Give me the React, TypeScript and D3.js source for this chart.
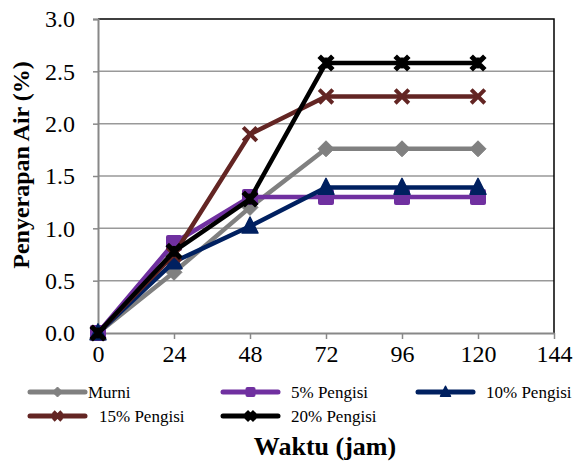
import { useEffect, useRef } from 'react';
import * as d3 from 'd3';

const hours = [0, 24, 48, 72, 96, 120];
const xTicks = [0, 24, 48, 72, 96, 120, 144];
const yTicks = [0, 0.5, 1.0, 1.5, 2.0, 2.5, 3.0];

const murni = [0, 0.58, 1.2, 1.76, 1.76, 1.76];
const pengisi5 = [0, 0.86, 1.3, 1.3, 1.3, 1.3];
const pengisi10 = [0, 0.68, 1.02, 1.39, 1.39, 1.39];
const pengisi15 = [0, 0.75, 1.9, 2.26, 2.26, 2.26];
const pengisi20 = [0, 0.78, 1.28, 2.58, 2.58, 2.58];

const seriesNames = ['Murni', '5% Pengisi', '10% Pengisi', '15% Pengisi', '20% Pengisi'];

type Marker = 'diamond' | 'square' | 'triangle' | 'x' | 'star';
type Series = { name: string; values: number[]; color: string; marker: Marker };

const series: Series[] = [
  { name: seriesNames[0], values: murni, color: '#808080', marker: 'diamond' },
  { name: seriesNames[1], values: pengisi5, color: '#7030a0', marker: 'square' },
  { name: seriesNames[2], values: pengisi10, color: '#002060', marker: 'triangle' },
  { name: seriesNames[3], values: pengisi15, color: '#632523', marker: 'x' },
  { name: seriesNames[4], values: pengisi20, color: '#000000', marker: 'star' },
];

const FONT = "'Liberation Serif', 'Times New Roman', serif";

// draws a marker centred at (cx, cy), s = half size
function drawMarker(g: d3.Selection<SVGGElement, unknown, null, undefined>, type: Marker, cx: number, cy: number, s: number, color: string) {
  if (type === 'diamond') {
    g.append('path')
      .attr('d', `M${cx},${cy - s}L${cx + s},${cy}L${cx},${cy + s}L${cx - s},${cy}Z`)
      .attr('fill', color)
      .attr('stroke', color)
      .attr('stroke-linejoin', 'round')
      .attr('stroke-width', 1);
  } else if (type === 'square') {
    g.append('rect')
      .attr('x', cx - s).attr('y', cy - s)
      .attr('width', 2 * s).attr('height', 2 * s)
      .attr('rx', 2)
      .attr('fill', color);
  } else if (type === 'triangle') {
    g.append('path')
      .attr('d', `M${cx},${cy - s * 1.15}L${cx + s},${cy + s * 0.85}L${cx - s},${cy + s * 0.85}Z`)
      .attr('fill', color)
      .attr('stroke', color)
      .attr('stroke-linejoin', 'round')
      .attr('stroke-width', 1.5);
  } else {
    const k = s * 0.85;
    g.append('path')
      .attr('d', `M${cx - k},${cy - k}L${cx + k},${cy + k}M${cx + k},${cy - k}L${cx - k},${cy + k}`)
      .attr('stroke', color)
      .attr('stroke-width', type === 'star' ? 5 : 4);
    if (type === 'star') {
      g.append('path')
        .attr('d', `M${cx},${cy - k * 0.8}L${cx},${cy + k * 0.8}`)
        .attr('stroke', color)
        .attr('stroke-width', 3.5);
    }
  }
}

export default function App() {
  const svgRef = useRef<SVGSVGElement>(null);

  useEffect(() => {
    if (!svgRef.current) return;
    const svg = d3.select(svgRef.current);
    svg.selectAll('*').remove();

    const x = d3.scaleLinear().domain([0, 144]).range([98, 554]);
    const y = d3.scaleLinear().domain([0, 3]).range([333, 19]);

    const root = svg.append('g').style('font-family', FONT);

    // gridlines
    root.selectAll('.grid')
      .data(yTicks.filter(t => t > 0 && t < 3))
      .enter().append('line')
      .attr('x1', x(0)).attr('x2', x(144))
      .attr('y1', d => y(d)).attr('y2', d => y(d))
      .attr('stroke', '#999999')
      .attr('stroke-width', 1.5);

    // top and right border
    root.append('path')
      .attr('d', `M${x(0)},${y(3)}H${x(144)}V${y(0)}`)
      .attr('fill', 'none')
      .attr('stroke', '#000')
      .attr('stroke-width', 1.5);

    // y axis
    const yAxis = root.append('g')
      .attr('transform', `translate(${x(0)},0)`)
      .call(d3.axisLeft(y).tickValues(yTicks).tickSize(5).tickPadding(18).tickFormat(d => d3.format('.1f')(d as number)));
    yAxis.attr('font-family', null).attr('font-size', null);
    yAxis.select('.domain').attr('stroke', '#888').attr('stroke-width', 2);
    yAxis.selectAll('line').attr('stroke', '#888').attr('stroke-width', 1.5);
    yAxis.selectAll('text').style('font-family', FONT).style('font-size', '24px').attr('fill', '#000');

    // x axis
    const xAxis = root.append('g')
      .attr('transform', `translate(0,${y(0)})`)
      .call(d3.axisBottom(x).tickValues(xTicks).tickSize(6).tickSizeOuter(0).tickPadding(6));
    xAxis.attr('font-family', null).attr('font-size', null);
    xAxis.select('.domain').attr('stroke', '#888').attr('stroke-width', 2);
    xAxis.selectAll('line').attr('stroke', '#888').attr('stroke-width', 1.5);
    xAxis.selectAll('text').style('font-family', FONT).style('font-size', '24px').attr('fill', '#000');

    // series
    const line = d3.line<number>()
      .x((_, i) => x(hours[i]))
      .y(d => y(d));

    series.forEach(s => {
      const sg = root.append('g');
      sg.append('path')
        .datum(s.values)
        .attr('fill', 'none')
        .attr('stroke', s.color)
        .attr('stroke-width', 4.5)
        .attr('stroke-linejoin', 'round')
        .attr('d', line);
      s.values.forEach((v, i) => drawMarker(sg, s.marker, x(hours[i]), y(v), 8, s.color));
    });

    // legend
    const legendPos = [
      { x: 30, y: 392, tx: 88 },
      { x: 223, y: 392, tx: 291 },
      { x: 418, y: 392, tx: 486 },
      { x: 30, y: 416, tx: 99 },
      { x: 223, y: 416, tx: 291 },
    ];
    series.forEach((s, i) => {
      const p = legendPos[i];
      const lg = root.append('g');
      lg.append('line')
        .attr('x1', p.x).attr('x2', p.x + 55)
        .attr('y1', p.y).attr('y2', p.y)
        .attr('stroke', s.color)
        .attr('stroke-width', 5)
        .attr('stroke-linecap', 'round');
      drawMarker(lg, s.marker, p.x + 27.5, p.y, 5, s.color);
      lg.append('text')
        .attr('x', p.tx).attr('y', p.y + 6)
        .style('font-family', FONT)
        .style('font-size', '17px')
        .text(s.name);
    });

    // axis titles
    root.append('text')
      .attr('x', 325).attr('y', 455)
      .attr('text-anchor', 'middle')
      .style('font-family', FONT)
      .style('font-weight', 'bold')
      .style('font-size', '26px')
      .text('Waktu (jam)');

    root.append('text')
      .attr('transform', 'translate(29,165) rotate(-90)')
      .attr('text-anchor', 'middle')
      .style('font-family', FONT)
      .style('font-weight', 'bold')
      .style('font-size', '24px')
      .text('Penyerapan Air (%)');
  }, []);

  return (
    <svg
      ref={svgRef}
      width={574}
      height={463}
      style={{ position: 'absolute', left: 0, top: 0, background: '#fff' }}
    />
  );
}
